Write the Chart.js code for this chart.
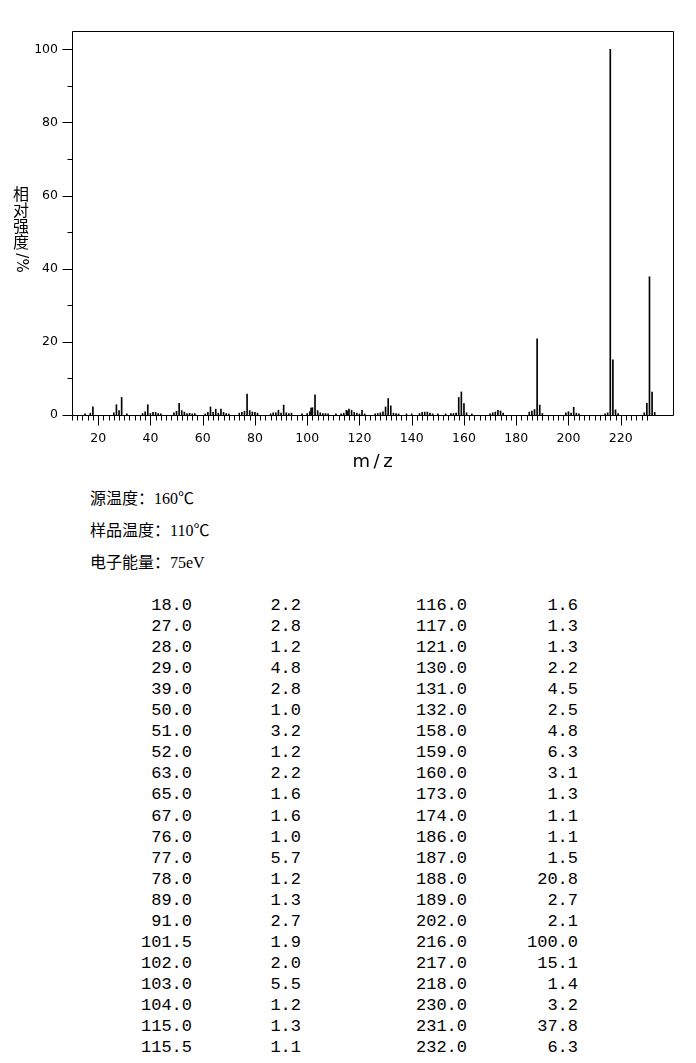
<!DOCTYPE html>
<html>
<head>
<meta charset="utf-8">
<script src="https://cdn.jsdelivr.net/npm/chart.js@4.4.0/dist/chart.umd.min.js"></script>
<style>
  body { margin: 0; background: #fff; width: 696px; height: 1063px; overflow: hidden; position: relative; }
  #chartBox { position: absolute; left: 0; top: 0; width: 696px; height: 480px; }
  .cond { position: absolute; left: 90px; font: 16px "Liberation Serif", "Noto Sans CJK SC", serif; color: #000; white-space: nowrap; }
  .cell { position: absolute; width: 120px; text-align: right; font: 17px "Liberation Mono", monospace; color: #000; line-height: 21px; }
</style>
</head>
<body>
<div id="chartBox"><canvas id="spectrum" width="696" height="480"></canvas></div>
<div class="cond" style="top:485px">源温度：160℃</div>
<div class="cond" style="top:517px">样品温度：110℃</div>
<div class="cond" style="top:549px">电子能量：75eV</div>
<div id="table"></div>

<script>
// peaks (m/z and relative intensity %)
const mzValues = [
  15, 17, 18, 26, 27, 28, 29, 31, 37, 38, 39, 40, 41, 42, 43, 44,
  49, 50, 51, 52, 53, 54, 55, 56, 57, 61, 62, 63, 64, 65, 66, 67, 68, 69, 70,
  74, 75, 76, 77, 78, 79, 80, 81, 86, 87, 88, 89, 90, 91, 92, 93, 94, 98, 100,
  101, 101.5, 102, 103, 104, 105, 106, 107, 108, 111, 113, 114, 115, 115.5, 116, 117,
  118, 119, 120, 121, 122, 126, 127, 128, 129, 130, 131, 132, 133, 134, 135, 138, 140,
  143, 144, 145, 146, 147, 148, 150, 153, 155, 156, 157, 158, 159, 160, 161, 163,
  170, 171, 172, 173, 174, 175, 185, 186, 187, 188, 189, 190,
  199, 200, 201, 202, 203, 204, 214, 215, 216, 217, 218, 219, 229, 230, 231, 232, 233
]
const intensities = [
  0.3, 0.5, 2.2, 0.6, 2.8, 1.2, 4.8, 0.3, 0.4, 0.9, 2.8, 0.4, 0.7, 0.7, 0.4, 0.3,
  0.6, 1.0, 3.2, 1.2, 0.8, 0.4, 0.5, 0.3, 0.4, 0.3, 0.7, 2.2, 0.7, 1.6, 0.5, 1.6, 0.7, 0.4, 0.3,
  0.5, 0.7, 1.0, 5.7, 1.2, 0.8, 0.7, 0.5, 0.3, 0.6, 0.6, 1.3, 0.5, 2.7, 0.6, 0.4, 0.5, 0.3, 0.4,
  0.9, 1.9, 2.0, 5.5, 1.2, 0.6, 0.4, 0.4, 0.3, 0.3, 0.3, 0.5, 1.3, 1.1, 1.6, 1.3,
  0.7, 0.5, 0.3, 1.3, 0.3, 0.3, 0.4, 0.6, 0.9, 2.2, 4.5, 2.5, 0.5, 0.4, 0.3, 0.3, 0.3,
  0.4, 0.7, 0.8, 0.8, 0.5, 0.3, 0.3, 0.3, 0.4, 0.4, 0.5, 4.8, 6.3, 3.1, 0.6, 0.3,
  0.3, 0.6, 0.8, 1.3, 1.1, 0.5, 0.8, 1.1, 1.5, 20.8, 2.7, 0.4,
  0.6, 0.9, 0.5, 2.1, 0.5, 0.3, 0.3, 0.6, 100.0, 15.1, 1.4, 0.4, 0.6, 3.2, 37.8, 6.3, 0.7
]

const xTickLabels = [20, 40, 60, 80, 100, 120, 140, 160, 180, 200, 220]
const yTickLabels = [0, 20, 40, 60, 80, 100]
const yTitleChars = ["相", "对", "强", "度"]

// table: all peaks of 1.0% and above, two column pairs of 22 rows
const listed = mzValues.map((m, i) => [m, intensities[i]]).filter((p) => p[1] >= 1.0)
const tableEl = document.getElementById("table")
const colRights = [192, 301, 467, 578]
listed.forEach((p, i) => {
  const half = i < 22 ? 0 : 1
  const row = i % 22
  const top = 595 + row * 21.05
  ;[p[0].toFixed(1), p[1].toFixed(1)].forEach((txt, k) => {
    const c = document.createElement("div")
    c.className = "cell"
    c.style.left = (colRights[half * 2 + k] - 120) + "px"
    c.style.top = top + "px"
    c.textContent = txt
    tableEl.appendChild(c)
  })
})

// ticks, frame and axis titles drawn on top of the chart
const framePlugin = {
  id: "frame",
  afterDraw(chart) {
    const ctx = chart.ctx
    const area = chart.chartArea
    const xs = chart.scales.x
    const ys = chart.scales.y
    const L = Math.round(area.left) + 0.5
    const R = Math.round(area.right) + 0.5
    const T = Math.round(area.top) + 0.5
    const B = Math.round(area.bottom) + 0.5
    ctx.save()
    ctx.strokeStyle = "#000"
    ctx.lineWidth = 1
    ctx.beginPath()
    ctx.moveTo(L, B); ctx.lineTo(L, T); ctx.lineTo(R, T); ctx.lineTo(R, B); ctx.lineTo(L, B)
    for (let v = 10; v <= 230; v += 2) {
      const px = Math.round(xs.getPixelForValue(v)) + 0.5
      const len = v % 20 === 0 ? 10 : 5
      ctx.moveTo(px, B); ctx.lineTo(px, B + len)
    }
    for (let v = 0; v <= 100; v += 10) {
      const py = Math.round(ys.getPixelForValue(v)) + 0.5
      const len = v % 20 === 0 ? 10 : 5
      ctx.moveTo(L, py); ctx.lineTo(L - len, py)
    }
    ctx.stroke()

    ctx.fillStyle = "#000"
    ctx.textAlign = "center"
    ctx.textBaseline = "middle"
    ctx.font = '16px "Noto Sans CJK SC"'
    yTitleChars.forEach((ch, i) => ctx.fillText(ch, 21, 194 + i * 16))
    ctx.save()
    ctx.translate(21, 263)
    ctx.rotate(Math.PI / 2)
    ctx.font = '15px "DejaVu Sans"'
    ctx.fillText("/%", 0, 0)
    ctx.restore()

    ctx.font = '18px "DejaVu Sans"'
    ctx.fillText("m\u2009/\u2009z", (area.left + area.right) / 2, 462)
    ctx.restore()
  },
}

const tickFont = { family: "DejaVu Sans", size: 12.5 }

new Chart(document.getElementById("spectrum").getContext("2d"), {
  type: "bar",
  data: {
    datasets: [
      {
        data: mzValues.map((m, i) => ({ x: m, y: intensities[i] })),
        backgroundColor: "#000",
        borderWidth: 0,
        barThickness: 1,
      },
    ],
  },
  options: {
    responsive: false,
    animation: false,
    layout: { padding: { top: 31, right: 23, left: 0, bottom: 0 } },
    plugins: { legend: { display: false }, tooltip: { enabled: false } },
    scales: {
      x: {
        type: "linear",
        min: 10,
        max: 240,
        offset: false,
        grid: { display: false },
        border: { display: false },
        ticks: {
          stepSize: 20,
          includeBounds: false,
          autoSkip: false,
          maxRotation: 0,
          color: "#000",
          font: tickFont,
          padding: 8,
          callback: (v) => (xTickLabels.includes(v) ? v : ""),
        },
        afterFit: (s) => { s.height = 65 },
      },
      y: {
        min: 0,
        max: 105,
        grid: { display: false },
        border: { display: false },
        ticks: {
          stepSize: 20,
          includeBounds: false,
          color: "#000",
          font: tickFont,
          padding: 6,
          callback: (v) => (yTickLabels.includes(v) ? v : ""),
        },
        afterFit: (s) => { s.width = 72 },
      },
    },
  },
  plugins: [framePlugin],
})
</script>
</body>
</html>
